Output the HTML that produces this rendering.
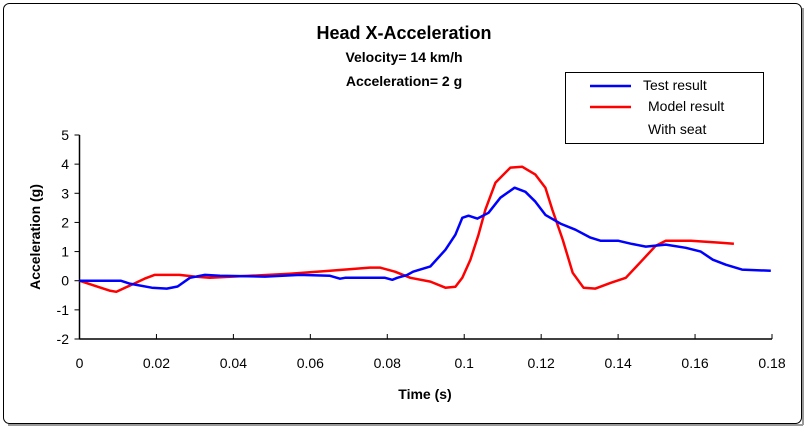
<!DOCTYPE html>
<html><head><meta charset="utf-8"><style>
body{margin:0;background:#fff;}
svg{font-family:"Liberation Sans",Arial,sans-serif;}
</style></head><body>
<svg width="807" height="432">
<rect x="3.5" y="3.5" width="798" height="420" rx="6" fill="#fff" stroke="#000" stroke-width="1"/>
<line x1="8" y1="425" x2="803" y2="425" stroke="#999" stroke-width="2"/>
<line x1="803" y1="8" x2="803" y2="425" stroke="#999" stroke-width="2"/>
<text x="404" y="39" font-size="18" font-weight="bold" text-anchor="middle">Head X-Acceleration</text>
<text x="404" y="62" font-size="14" font-weight="bold" text-anchor="middle">Velocity= 14 km/h</text>
<text x="404" y="86" font-size="14" font-weight="bold" text-anchor="middle">Acceleration= 2 g</text>
<g id="axes"></g>
<g id="series"></g>
<text x="425" y="399" font-size="14" font-weight="bold" text-anchor="middle">Time (s)</text>
<text transform="translate(40,237) rotate(-90)" font-size="14" font-weight="bold" text-anchor="middle">Acceleration (g)</text>
<g>
<rect x="565.5" y="72.5" width="198" height="71" fill="#fff" stroke="#000"/>
<line x1="590" y1="86" x2="631" y2="86" stroke="#0000ff" stroke-width="2.5"/>
<text x="643" y="90" font-size="14">Test result</text>
<line x1="590" y1="107" x2="631" y2="107" stroke="#ff0000" stroke-width="2.5"/>
<text x="648" y="111" font-size="14">Model result</text>
<text x="648" y="134" font-size="14">With seat</text>
</g>
</svg>
<script>
const xTicks=[0,0.02,0.04,0.06,0.08,0.1,0.12,0.14,0.16,0.18];
const xTickLabels=["0","0.02","0.04","0.06","0.08","0.1","0.12","0.14","0.16","0.18"];
const yTicks=[-2,-1,0,1,2,3,4,5];
const testT=[0,0.0107,0.0130,0.0188,0.0227,0.0255,0.0287,0.0326,0.0365,0.0482,0.0573,0.0651,0.0677,0.0690,0.0794,0.0813,0.0826,0.0852,0.0867,0.0912,0.0951,0.0977,0.0995,0.1011,0.1034,0.1063,0.1094,0.1131,0.1159,0.1185,0.1211,0.1250,0.1289,0.1328,0.1355,0.1401,0.1433,0.1472,0.1524,0.1576,0.1615,0.1646,0.1680,0.1722,0.1797];
const testV=[0,0,-0.10,-0.24,-0.27,-0.20,0.10,0.20,0.17,0.14,0.20,0.17,0.07,0.10,0.10,0.03,0.10,0.20,0.31,0.49,1.06,1.58,2.16,2.23,2.13,2.33,2.85,3.19,3.05,2.71,2.26,1.96,1.75,1.48,1.37,1.37,1.27,1.17,1.24,1.13,1.00,0.72,0.55,0.38,0.34];
const modelT=[0,0.0039,0.0078,0.0096,0.0130,0.0169,0.0195,0.0260,0.0300,0.0339,0.0443,0.0547,0.0651,0.0755,0.0781,0.0820,0.0860,0.0912,0.0951,0.0977,0.0995,0.1016,0.1037,0.1055,0.1081,0.1120,0.1151,0.1185,0.1211,0.1229,0.1256,0.1282,0.1310,0.1341,0.1381,0.1420,0.1459,0.1498,0.1524,0.1589,0.1667,0.1701];
const modelV=[0,-0.17,-0.34,-0.38,-0.17,0.07,0.20,0.20,0.14,0.10,0.17,0.24,0.34,0.45,0.45,0.31,0.10,-0.03,-0.24,-0.21,0.10,0.72,1.58,2.44,3.36,3.88,3.91,3.64,3.19,2.44,1.41,0.27,-0.24,-0.27,-0.07,0.10,0.65,1.20,1.37,1.37,1.30,1.27];
const NS="http://www.w3.org/2000/svg";
const X0=79.5,X1=772,Y0=339,Y1=135;
function sx(t){return X0+(t-0)/(0.18-0)*(X1-X0);}
function sy(v){return Y0-(v+2)/7*(Y0-Y1);}
function mk(tag,attrs,parent){const e=document.createElementNS(NS,tag);for(const k in attrs)e.setAttribute(k,attrs[k]);parent.appendChild(e);return e;}
const ax=document.getElementById('axes');
const yl=mk('line',{x1:X0,y1:Y1,x2:X0,y2:Y0,stroke:'#000','stroke-width':1.5},ax);


const xl=mk('line',{x1:X0,y1:Y0,x2:X1,y2:Y0,stroke:'#000','stroke-width':1.5},ax);


xTicks.forEach((t,i)=>{
 mk('line',{x1:sx(t),y1:Y0,x2:sx(t),y2:Y0-5,stroke:'#000'},ax);
 const tx=mk('text',{x:sx(t),y:368,'font-size':14,'text-anchor':'middle'},ax);
 tx.textContent=xTickLabels[i];
 
 
});
yTicks.forEach(v=>{
 mk('line',{x1:X0-5,y1:sy(v),x2:X0,y2:sy(v),stroke:'#000'},ax);
 const tx=mk('text',{x:69,y:sy(v)+5,'font-size':14,'text-anchor':'end'},ax);
 tx.textContent=String(v);
 
 
});
const sg=document.getElementById('series');
function line(T,V,color,name){
 const p=mk('polyline',{points:T.map((t,i)=>sx(t).toFixed(1)+','+sy(V[i]).toFixed(1)).join(' '),fill:'none',stroke:color,'stroke-width':2.5,'stroke-linejoin':'round'},sg);
 
 
}
line(modelT,modelV,'#ff0000','model-result-line');
line(testT,testV,'#0000ff','test-result-line');
</script>
</body></html>
